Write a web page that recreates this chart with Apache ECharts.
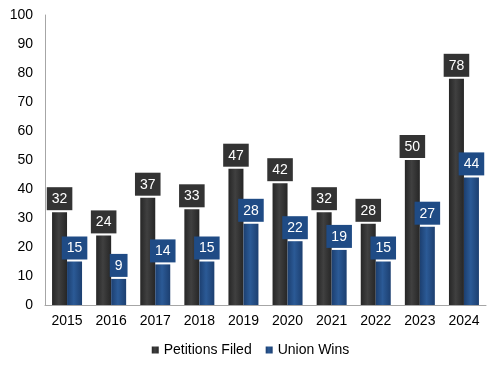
<!DOCTYPE html>
<html><head><meta charset="utf-8">
<script src="https://cdn.jsdelivr.net/npm/echarts@6/dist/echarts.min.js"></script>
<style>html,body{margin:0;padding:0;background:#fff}#c{width:501px;height:371px}</style>
</head><body><div id="c"></div>
<script>
var years = ['2015','2016','2017','2018','2019','2020','2021','2022','2023','2024'];
var petitions = [32,24,37,33,47,42,32,28,50,78];
var wins = [15,9,14,15,28,22,19,15,27,44];
var yTicks = [0,10,20,30,40,50,60,70,80,90,100];

function grad(edge, mid){
  return new echarts.graphic.LinearGradient(0,0,1,0,[
    {offset:0,color:edge},{offset:0.45,color:mid},{offset:1,color:edge}]);
}
var chart = echarts.init(document.getElementById('c'));
var font = 'Liberation Sans, Arial, sans-serif';
chart.setOption({
  animation:false,
  textStyle:{fontFamily:font},
  grid:{left:45,right:15,top:15,bottom:66},
  legend:{
    bottom:9, left:'center', itemWidth:7, itemHeight:7, itemGap:14,
    textStyle:{fontSize:14,color:'#000',fontFamily:font},
    data:[{name:'Petitions Filed',icon:'rect'},{name:'Union Wins',icon:'rect'}]
  },
  xAxis:{
    type:'category', data:years,
    axisLine:{lineStyle:{color:'#a6a6a6'}},
    axisTick:{show:false},
    axisLabel:{color:'#000',fontSize:14,margin:9,fontFamily:font}
  },
  yAxis:{
    type:'value', min:0, max:100, interval:10,
    axisLine:{show:true,lineStyle:{color:'#a6a6a6'}},
    axisTick:{show:false},
    splitLine:{show:false},
    axisLabel:{color:'#000',fontSize:14,margin:12,fontFamily:font,
      formatter:function(v){return yTicks.indexOf(v)>=0?String(v):'';}}
  },
  series:[
    {name:'Petitions Filed',type:'bar',data:petitions,barGap:'0%',barCategoryGap:'32%',
     itemStyle:{color:grad('#262626','#404040')},
     label:{show:true,position:'top',distance:2,color:'#fff',fontSize:14,fontFamily:font,
       backgroundColor:'#333333',padding:[5,5,4,5]}},
    {name:'Union Wins',type:'bar',data:wins,
     itemStyle:{color:grad('#1c3f70','#2b5a96')},
     label:{show:true,position:'top',distance:2,color:'#fff',fontSize:14,fontFamily:font,
       backgroundColor:'#1f4b85',padding:[5,5,4,5]}}
  ]
});
</script></body></html>
